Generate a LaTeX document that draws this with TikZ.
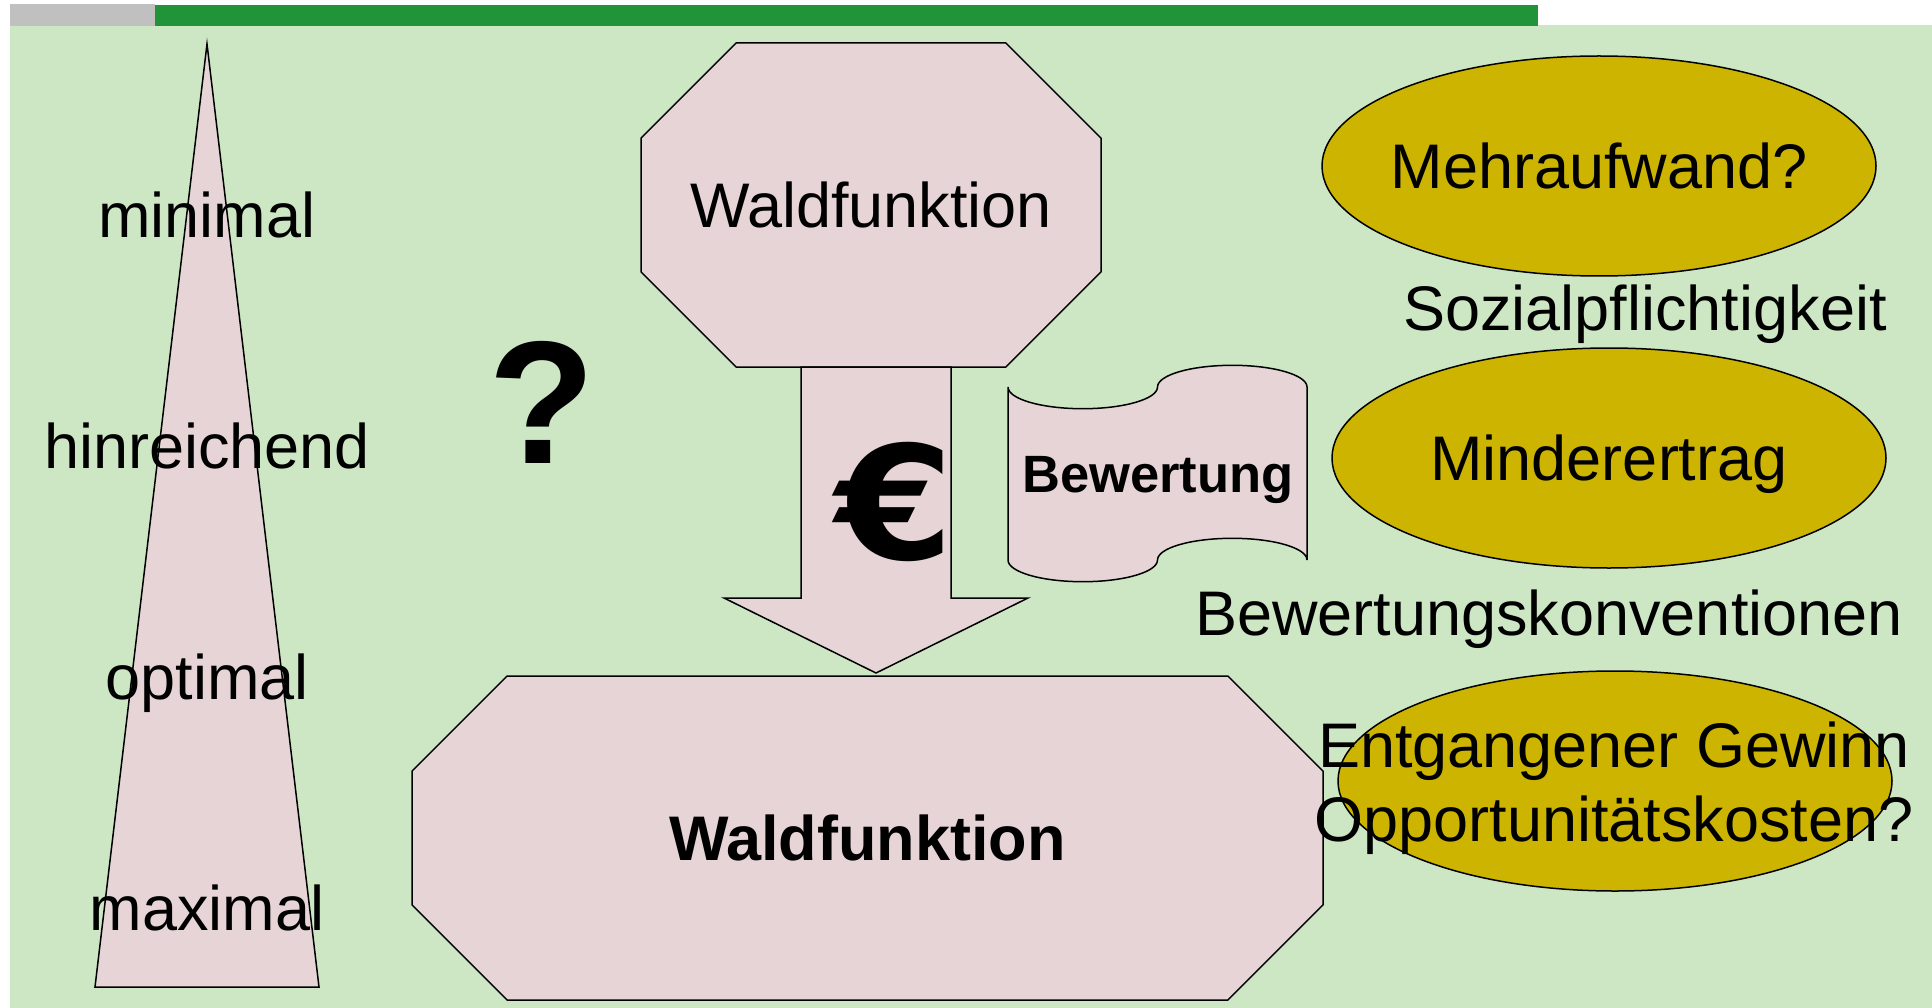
\documentclass[tikz,border=0pt]{standalone}
\usepackage{fontspec}
\setmainfont{Liberation Sans}
\newfontfamily\eurofont{DejaVu Sans}
\usetikzlibrary{positioning,shapes.misc,shapes.geometric}
\definecolor{bgGreen}{HTML}{CDE7C5}
\definecolor{barGreen}{HTML}{21943A}
\definecolor{barGray}{HTML}{C0C0C0}
\definecolor{boxPink}{HTML}{E6D4D6}
\definecolor{ovalGold}{HTML}{CCB400}
\newcommand{\txtfont}{\fontsize{63}{74}\selectfont}
\tikzset{
  octbox/.style={chamfered rectangle,chamfered rectangle xsep=72pt,chamfered rectangle ysep=72pt,
    draw=black,fill=boxPink,line width=1.5pt,inner sep=0pt,minimum height=324pt,font=\txtfont},
  oval/.style={ellipse,draw=black,fill=ovalGold,line width=1.5pt,
    minimum width=554pt,minimum height=220pt,inner sep=0pt},
  plainlabel/.style={font=\txtfont,inner sep=0pt,anchor=base},
  pinkshape/.style={draw=black,fill=boxPink,line width=1.5pt}
}

\begin{document}
\begin{tikzpicture}[x=1pt,y=-1pt]
  \useasboundingbox (0,0) rectangle (1932,1008);
  % Hintergrund und Balken
  \fill[bgGreen] (10,25) rectangle (1932,1008);
  \fill[barGray] (10,4) rectangle (155,26);
  \fill[barGreen] (155,5) rectangle (1538,26);

  % Skala links
  \draw[pinkshape] (207,44) -- (319,987) -- (95,987) -- cycle;
  \node[plainlabel] (minimal) at (207,238) {minimal};
  \node[plainlabel] (hinreichend) at (207,468) {hinreichend};
  \node[plainlabel] (optimal) at (207,699) {optimal};
  \node[plainlabel] (maximal) at (207,930) {maximal};

  \node[font=\fontsize{175}{175}\selectfont\bfseries,inner sep=0pt,anchor=base] (frage) at (542,463) {?};

  % Waldfunktionen
  \node[octbox,minimum width=460pt] (wald) at (871,205) {Waldfunktion};
  \node[octbox,minimum width=911pt] (waldneu) at (867.5,838) {\bfseries Waldfunktion};

  \draw[pinkshape] (801,367) -- (951,367) -- (951,598) -- (1028,598) -- (876,673)
    -- (724,598) -- (801,598) -- cycle;
  \node[font=\fontsize{158}{158}\eurofont\bfseries,inner sep=0pt,anchor=base,xscale=1.08] (euro) at (895,559) {€};

  % Bewertung
  \draw[pinkshape] (1008,387)
    arc[start angle=180,end angle=360,x radius=74.75pt,y radius=21.7pt]
    arc[start angle=180,end angle=0,x radius=74.75pt,y radius=21.7pt]
    -- (1307,560)
    arc[start angle=0,end angle=180,x radius=74.75pt,y radius=21.7pt]
    arc[start angle=0,end angle=-180,x radius=74.75pt,y radius=21.7pt]
    -- cycle;
  \node[font=\fontsize{52.5}{60}\selectfont\bfseries,inner sep=0pt,anchor=base] (bewertung) at (1158,492) {Bewertung};

  % Ellipsen rechts
  \node[oval] (mehr) at (1599,166) {};
  \node[oval] (minder) at (1609,458) {};
  \node[oval] (entgang) at (1615,781) {};
  \node[font=\txtfont,inner sep=0pt] (mehrtext) at (mehr) {Mehraufwand?};
  \node[font=\txtfont,inner sep=0pt,yshift=-6pt] (mindertext) at (minder) {Minderertrag};
  \node[plainlabel] (sozial) at (1645,330) {Sozialpflichtigkeit};
  \node[plainlabel] (konvention) at (1549,635) {Bewertungskonventionen};
  \node[font=\txtfont,inner sep=0pt,align=center] (gewinn) at (1614,788) {Entgangener Gewinn\\Opportunitätskosten?};
\end{tikzpicture}
\end{document}
